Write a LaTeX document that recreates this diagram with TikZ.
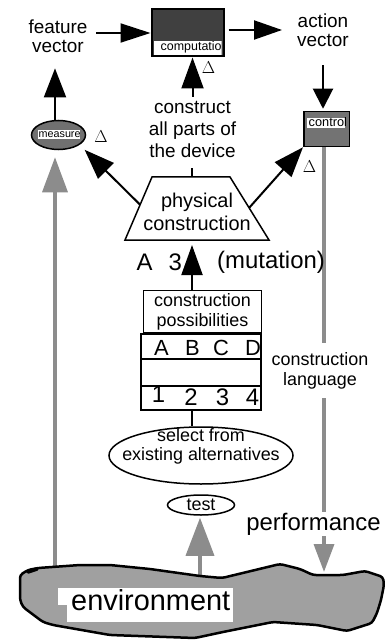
\documentclass[tikz,border=0pt]{standalone}
\usepackage{fontspec}
\setmainfont{Liberation Sans}
\usetikzlibrary{arrows.meta,calc,shapes.geometric,backgrounds}

\definecolor{darkfill}{RGB}{64,64,64}
\definecolor{ctrlfill}{RGB}{115,115,115}
\definecolor{measfill}{RGB}{112,112,112}
\definecolor{envfill}{RGB}{160,160,160}
\definecolor{flowgray}{RGB}{140,140,140}

\newcommand\fsz[2]{\fontsize{#1}{#2}\selectfont}

\begin{document}
\begin{tikzpicture}[x=1bp,y=-1bp,
  txt/.style={inner sep=0pt, align=center},
  arr/.style 2 args={line width=2bp, -{Triangle[length=#1bp,width=#2bp]}},
  garr/.style 2 args={line width=3.5bp, draw=flowgray, -{Triangle[length=#1bp,width=#2bp]}},
  link/.style={line width=2bp},
  delta/.style={inner sep=0pt, font=\fsz{18}{18}},
  tag/.style={anchor=base west, inner sep=0pt},
  cell/.style={anchor=base, inner sep=0pt}]
\useasboundingbox (0,0) rectangle (385,643);

% ---- environment ----
\draw[line width=2.5bp, fill=envfill, rounded corners=3bp]
  (20,575) -- (28,570) -- (38,568) -- (80,565) -- (110,565) -- (150,569)
  -- (200,576) -- (222,578) -- (280,564) -- (300,569) -- (313,575)
  -- (343,575) -- (365,571) -- (383,577) -- (384,585) -- (381,600)
  -- (377,613) -- (372,623) -- (347,631) -- (317,625) -- (273,622)
  -- (223,632) -- (195,638) -- (110,635) -- (53,625) -- (43,622)
  -- (23,607) -- (20,600) -- cycle;
\draw[line width=3.5bp, line cap=round] (28,572) -- (37,569);
\coordinate (envL) at (55,567);
\coordinate (envM) at (200,577);
\coordinate (envR) at (324,572);
\fill[white] (67,588) rectangle (233,622);
\fill[white] (58,588) rectangle (67,605);
\node[tag, font=\fsz{29}{29}] (env) at (71,610) {environment};

% ---- device: computation, measure, control ----
\node[draw, line width=2bp, fill=darkfill, minimum width=72bp, minimum height=47bp, inner sep=0pt] (comp) at (187.5,33) {};
\begin{scope}
  \clip (153.5,41) rectangle (221.5,55);
  \fill[white] (153.5,41) rectangle (221.5,55);
  \node[tag, font=\fsz{12.5}{12.5}] (comptxt) at (160.5,50.5) {computation};
\end{scope}

\node[draw, ellipse, line width=1.5bp, fill=measfill, minimum width=54bp, minimum height=29bp, inner sep=0pt] (meas) at (58.5,135) {};
\begin{scope}
  \clip (38,130.5) rectangle (80,139);
  \fill[white] (38,130.5) rectangle (80,139);
  \node[tag, font=\fsz{10.8}{10.8}] (meastxt) at (38.5,137.7) {measure};
\end{scope}

\node[draw, line width=1.5bp, fill=ctrlfill, minimum width=45.5bp, minimum height=35bp, inner sep=0pt] (ctrl) at (326.5,129) {};
\begin{scope}
  \clip (307,118) rectangle (345,128);
  \fill[white] (307,118) rectangle (345,128);
  \node[tag, font=\fsz{12.8}{12.8}] (ctrltxt) at (308.5,126.5) {control};
\end{scope}

% ---- text labels (base = baseline of the last line) ----
\node[txt, anchor=base, font=\fsz{19}{20}] (feat) at (58,53) {feature\\vector};
\node[txt, anchor=base, font=\fsz{19}{20}] (act) at (323,47) {action\\vector};
\node[txt, anchor=base, font=\fsz{19}{22.5}] (constr) at (192.5,158) {construct\\all parts of\\the device};

\node[delta] (d1) at (208.5,68) {$\Delta$};
\node[delta] (d2) at (101,137) {$\Delta$};
\node[delta] (d3) at (309.5,167) {$\Delta$};

% ---- physical construction ----
\draw[line width=1.5bp] (125,240) coordinate (tbl) -- (152,177) coordinate (ttl)
  -- (230,177) coordinate (ttr) -- (269,240) coordinate (tbr) -- cycle;
\coordinate (ttop) at (192,177);
\coordinate (tbot) at (192,240);
\coordinate (pl) at ($(ttl)!0.44!(tbl)$);
\coordinate (pr) at ($(ttr)!0.49!(tbr)$);
\node[txt, anchor=base, font=\fsz{20}{23.5}] (phys) at (197,230.5) {physical\\construction};

\node[tag, font=\fsz{24}{24}] (a3) at (136.5,270) {A\hspace{16bp}3};
\node[tag, font=\fsz{24}{24}] (mut) at (217,268) {(mutation)};

% ---- construction possibilities and language table ----
\node[draw, line width=1.5bp, minimum width=118bp, minimum height=42bp, inner sep=0pt, align=center, font=\fsz{18}{20}] (cp) at (202.5,311.5) {construction\\possibilities};
\node[draw, line width=2bp, minimum width=120bp, minimum height=76bp, inner sep=0pt] (tab) at (200.5,371.5) {};
\draw[line width=2bp] (140,359) -- (261,359);
\draw[line width=2bp] (140,386) -- (261,386);
\foreach \x/\l in {161.5/A,192.5/B,221/C,253/D}
  \node[cell, font=\fsz{22}{22}] (L-\l) at (\x,355) {\l};
\foreach \x/\y/\l in {158.5/402/1,191/405/2,222.5/405/3,252.5/405/4}
  \node[cell, font=\fsz{24}{24}] (N-\l) at (\x,\y) {\l};

\node[draw, ellipse, line width=1.5bp, minimum width=184bp, minimum height=57bp, inner sep=0pt] (sel) at (201,455.5) {};
\node[txt, anchor=base, font=\fsz{18}{19}] (seltxt) at (201,460) {select from\\existing alternatives};

\node[draw, ellipse, line width=1.5bp, minimum width=67bp, minimum height=20bp, inner sep=0pt, font=\fsz{18}{18}] (test) at (201,505) {test};

\node[txt, anchor=base, fill=white, inner xsep=2bp, inner ysep=9bp, font=\fsz{18}{20}] (lang) at (320,385) {construction\\language};
\node[txt, anchor=base, fill=white, inner xsep=1bp, inner ysep=1bp, font=\fsz{24}{24}] (perf) at (313.5,530) {performance};

% ---- black connectors ----
\draw[arr={30}{19}] ([xshift=8.5bp]feat.east |- comp.west) -- (comp.west);
\draw[arr={28}{19}, shorten <=4bp, shorten >=15bp] ([yshift=3bp]comp.east) -- ([yshift=3bp]comp.east -| act.west);
\draw[arr={20}{20}, shorten <=18bp, shorten >=2bp] (act.south) -- (act.south |- ctrl.north);
\draw[arr={31}{22}] ([yshift=4bp]constr.north) -- (constr.north |- comp.south);
\draw[arr={29}{22}, shorten >=15bp] ([xshift=-3.5bp]meas.north) -- ([xshift=-3.5bp]meas.north |- feat.south);
\draw[link, shorten <=10bp] (constr.south -| ttop) -- (ttop);
\draw[arr={30}{22}, shorten >=7bp] (pl) -- (meas.-25);
\draw[arr={30}{22}] (pr) -- (ctrl.south west);
\draw[arr={30}{21}, shorten >=5bp] (cp.north -| tbot) -- (tbot);
\draw[link] (tab.south -| tbot) -- (sel.north -| tbot);

% ---- grey flows to and from the environment ----
\begin{scope}[on background layer]
  \draw[garr={35}{25}, shorten >=7bp] (envL) -- (meas.south -| envL);
  \draw[garr={38}{28}, shorten >=2bp] (envM) -- (test.south -| envM);
  \draw[garr={28}{20}] (ctrl.south -| envR) -- (envR);
\end{scope}
\end{tikzpicture}
\end{document}
